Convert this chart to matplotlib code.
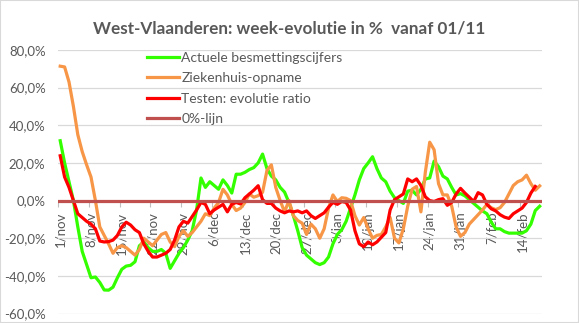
import matplotlib
matplotlib.use("Agg")
from matplotlib import pyplot as plt
from matplotlib.ticker import FuncFormatter
import matplotlib.patches as mpatches
import numpy as np

# day index 0 = 1/nov, one value per day up to 18/feb
besmettingen = [31.8, 20, 10, 0, -14, -27, -34, -41, -40.6, -43.5,
                -47.5, -47.6, -46, -41, -36.5, -34.8, -34.4, -32.5, -24, -22,
                -25, -27, -27, -26, -28, -36, -32, -28, -25, -21,
                -16, -5, 12, 7, 10, 8, 6, 11, 8, 4,
                14, 14, 15, 16.5, 17.5, 20, 24.7, 17, 13, 11,
                7, 4.5, -1, -8, -16, -25, -29, -31, -33, -34,
                -33, -30, -23, -18, -15.5, -11, -4, 3, 11, 17,
                20, 23.3, 17, 12, 10, 5, 1.5, 0, -1.5, 5,
                5.5, 3, 6, 11.5, 12, 21, 18, 13, 11.5, 7,
                3, 3.7, 2.5, 0.5, -1.5, -3.5, -5.5, -7, -11.5, -15,
                -15, -16.5, -17.3, -17.3, -17.3, -17.3, -16, -12.5, -5.3, -3]

ziekenhuis = [71.4, 71, 63, 50, 35, 26, 19, 12.5, 0, -14,
              -18.5, -23, -28, -25, -24, -25, -27, -29, -26, -20,
              -22, -24, -21, -18, -17, -22, -24.5, -19, -16, -19,
              -17, -14, -11, -7, -8, -4, -1, 6, 3, -2,
              -5.3, -4, -1, 3.5, 1.8, 2.6, 4.4, 16, 19, 7,
              0, -6, 0, -8, -10.6, -12, -18, -12.5, -15, -20,
              -15, -4, 3, -0.5, 1.5, 1.2, 0, -8, -13, -9,
              -15, -20, -18.5, -18, -14, -9, -20, -22.5, -15, -3,
              6, 7.5, -6, 15, 31, 27, 9, 3, 3, -3,
              -14, -19, -17, -12.5, -10, -7.5, -5, -2, -3.8, -4.8,
              -3.8, -1, 3.5, 8, 10, 11, 13.5, 9, 5.5, 7.8]

testen = [23.8, 12.5, 7, 0, -7, -9, -11, -12.5, -15, -21.5,
          -22, -21.8, -21, -18.5, -14, -11.5, -13, -15.5, -17, -23,
          -27, -30, -30, -29, -28, -26, -21, -14, -11, -12,
          -8.5, -5, -1, -2, -7, -5, -3.5, -2, -6, -2,
          -1, -1.8, 1.5, 3.5, 5.5, 7.9, 0.5, -1.5, -1.5, -4,
          -5.5, -6.5, -5.5, -6, -5.5, -6.5, -5.5, -8, -9.5, -8,
          -6.5, -3.5, -1, -2, -0.5, -1, -5, -16, -23, -24.5,
          -22, -23.5, -22, -19.5, -17, -5, 0.5, 2, 3.5, 11.5,
          10, 11.5, 8, 2, 0, -0.5, 0.5, 1, -2.5, -1,
          3.5, 6.5, 4, 1.8, -0.5, 4.2, 3, -2, -4.4, -5.5,
          -7.5, -8.8, -9.5, -7, -5.5, -4, -1, 4, 7.5, np.nan]

tick_labels = ['1/nov', '8/nov', '15/nov', '22/nov', '29/nov', '6/dec', '13/dec',
               '20/dec', '27/dec', '3/jan', '10/jan', '17/jan', '24/jan',
               '31/jan', '7/feb', '14/feb']

grey = '#595959'
plt.rcParams['font.family'] = ['Lato', 'DejaVu Sans']

fig = plt.figure(figsize=(5.79, 3.23), dpi=100)
ax = fig.add_axes([0.1002, 0.0294, 0.8357, 0.8158])

days = np.arange(len(besmettingen))
ax.plot(days, np.array(besmettingen) / 100, color='#33FF00', lw=2.3, label='Actuele besmettingscijfers', zorder=3)
ax.plot(days, np.array(ziekenhuis) / 100, color='#F79646', lw=2.3, label='Ziekenhuis-opname', zorder=4)
ax.plot(days, np.array(testen) / 100, color='#FF0000', lw=2.3, label='Testen: evolutie ratio', zorder=5)
ax.axhline(0, color='#C0504D', lw=2.3, label='0%-lijn', zorder=6)

ax.set_xlim(-0.5, len(days) - 0.5)
ax.set_ylim(-0.6, 0.8)
ax.set_yticks(np.arange(-0.6, 0.81, 0.2))
ax.yaxis.set_major_formatter(FuncFormatter(lambda v, p: f"{v*100:.1f}%".replace('.', ',').replace('-0,0', '0,0')))
ax.grid(axis='y', color='#D9D9D9', lw=0.9, zorder=0)
ax.set_axisbelow(True)

for s in ax.spines.values():
    s.set_visible(False)
ax.spines['bottom'].set_position(('data', 0))

ax.set_xticks(np.arange(0, len(days), 7))
ax.set_xticklabels(tick_labels, rotation=90)
ax.set_xticks(np.arange(-0.5, len(days), 7), minor=True)
ax.tick_params(axis='x', which='major', length=0, pad=8, labelsize=9.5, labelcolor=grey)
ax.tick_params(axis='x', which='minor', length=4, color='#BFBFBF', width=0.8)
ax.tick_params(axis='y', length=0, pad=9, labelsize=9.5, labelcolor=grey)

fig.text(0.5, 1 - 28 / 323, 'West-Vlaanderen: week-evolutie in %  vanaf 01/11',
         ha='center', va='center', fontsize=12.3, fontweight='bold', color=grey)

leg = ax.legend(loc='upper left', bbox_to_anchor=(0.183, 0.993), frameon=False,
                fontsize=10, handlelength=2.3, handletextpad=0.2, labelspacing=0.6,
                borderpad=0, borderaxespad=0)
for t in leg.get_texts():
    t.set_color(grey)

fig.patches.append(mpatches.Rectangle((0, 0), 1, 1, transform=fig.transFigure,
                                      fill=False, edgecolor='#D9D9D9', lw=1.5))

fig.savefig('out.png', dpi=100)
